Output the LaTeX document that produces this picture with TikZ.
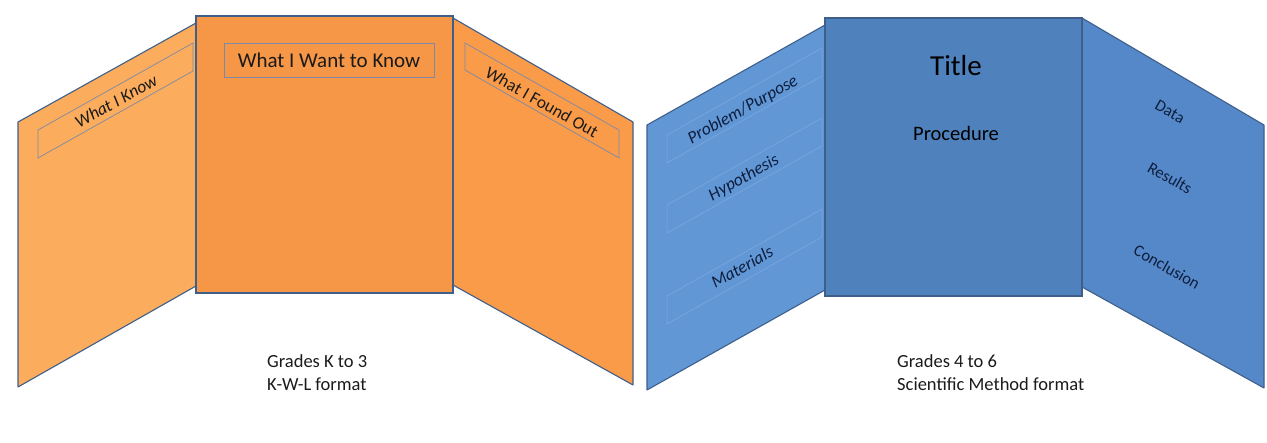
\documentclass[tikz,border=0pt]{standalone}
\usepackage{fontspec}
\setmainfont{Carlito}
\definecolor{BoardLine}{HTML}{3F5F8B}
\definecolor{OrangeLeft}{HTML}{FBAC5C}
\definecolor{OrangeMid}{HTML}{F59746}
\definecolor{OrangeRight}{HTML}{FA9B4A}
\definecolor{BlueLeft}{HTML}{6297D6}
\definecolor{BlueMid}{HTML}{4F81BD}
\definecolor{BlueRight}{HTML}{5588C9}
\definecolor{BoxLine}{HTML}{7A8AA8}
\definecolor{FaintLine}{HTML}{7FAAE2}
\definecolor{PanelInk}{HTML}{1A1A1A}
\definecolor{BlueInk}{HTML}{0E1E3C}
\tikzset{
  board/wing/.style={draw=BoardLine, line width=1.1pt, line join=round},
  board/centre/.style={draw=BoardLine, line width=1.8pt},
  board/box/.style={draw=BoxLine, line width=.7pt},
  board/faint/.style={draw=FaintLine, line width=.5pt},
  board/label/.style={text=PanelInk, inner sep=0pt, font=\fontsize{17.5}{20}\selectfont},
  board/bluelabel/.style={board/label, text=BlueInk},
  board/caption/.style={text=PanelInk, inner sep=0pt, anchor=west, align=left,
    font=\fontsize{18.5}{23}\selectfont}
}
\begin{document}
\begin{tikzpicture}[x=1pt,y=-1pt]
  \useasboundingbox (0,0) rectangle (1267,442);
  % K-W-L board
  \fill[OrangeLeft] (18,122) -- (196,23) -- (196,286) -- (18,387) -- cycle;
  \draw[board/wing] (196,23) -- (18,122) -- (18,387) -- (196,286);
  \fill[OrangeRight] (453,18) -- (633,122) -- (633,385) -- (453,285) -- cycle;
  \draw[board/wing] (453,18) -- (633,122) -- (633,385) -- (453,285);
  \draw[board/centre,fill=OrangeMid] (196,16) rectangle (453,293);
  \draw[board/box] (38,130) -- (193,43) -- (193,71) -- (38,158) -- cycle;
  \draw[board/box] (465,43) -- (619,130) -- (619,158) -- (465,70) -- cycle;
  \node[board/box, minimum width=210pt, minimum height=34pt, inner sep=0pt,
    text=PanelInk, font=\fontsize{21}{24}\selectfont] (want) at (329,60) {What I Want to Know};
  \node[board/label, rotate=29.3, font=\fontsize{17.5}{20}\selectfont\itshape] (know) at (116,101) {What I Know};
  \node[board/label, rotate=-29.5] (found) at (542,102) {What I Found Out};
  \node[board/caption] (kwl) at (267,373) {Grades K to 3\\K-W-L format};
  % scientific method board
  \fill[BlueLeft] (647,125) -- (825,25) -- (825,290) -- (647,390) -- cycle;
  \draw[board/wing] (825,25) -- (647,125) -- (647,390) -- (825,290);
  \fill[BlueRight] (1082,18) -- (1264,125) -- (1264,388) -- (1082,287) -- cycle;
  \draw[board/wing] (1082,18) -- (1264,125) -- (1264,388) -- (1082,287);
  \foreach \y in {135,205,296}{
    \draw[board/faint] (667,\y) -- (822,\y-87) -- (822,\y-59) -- (667,\y+28) -- cycle;
  }
  \draw[board/centre,fill=BlueMid] (825,18) rectangle (1082,296);
  \node[board/bluelabel, rotate=29.3, font=\fontsize{17.5}{20}\selectfont\itshape] (purpose) at (743,110) {Problem/Purpose};
  \node[board/bluelabel, rotate=29.3, font=\fontsize{17.5}{20}\selectfont\itshape] (hypo) at (744,178) {Hypothesis};
  \node[board/bluelabel, rotate=29.3, font=\fontsize{17.5}{20}\selectfont\itshape] (materials) at (742,267) {Materials};
  \node[board/bluelabel, text=black, font=\fontsize{29}{32}\selectfont] (title) at (956,66) {Title};
  \node[board/bluelabel, text=black, font=\fontsize{20.5}{24}\selectfont] (procedure) at (956,133) {Procedure};
  \node[board/bluelabel, rotate=-29.5, font=\fontsize{16.5}{19}\selectfont] (data) at (1170,112) {Data};
  \node[board/bluelabel, rotate=-29.5, font=\fontsize{16.5}{19}\selectfont] (results) at (1170,178) {Results};
  \node[board/bluelabel, rotate=-29.5, font=\fontsize{16.5}{19}\selectfont] (conclusion) at (1167,267) {Conclusion};
  \node[board/caption] (sci) at (897,373) {Grades 4 to 6\\Scientific Method format};
\end{tikzpicture}
\end{document}
